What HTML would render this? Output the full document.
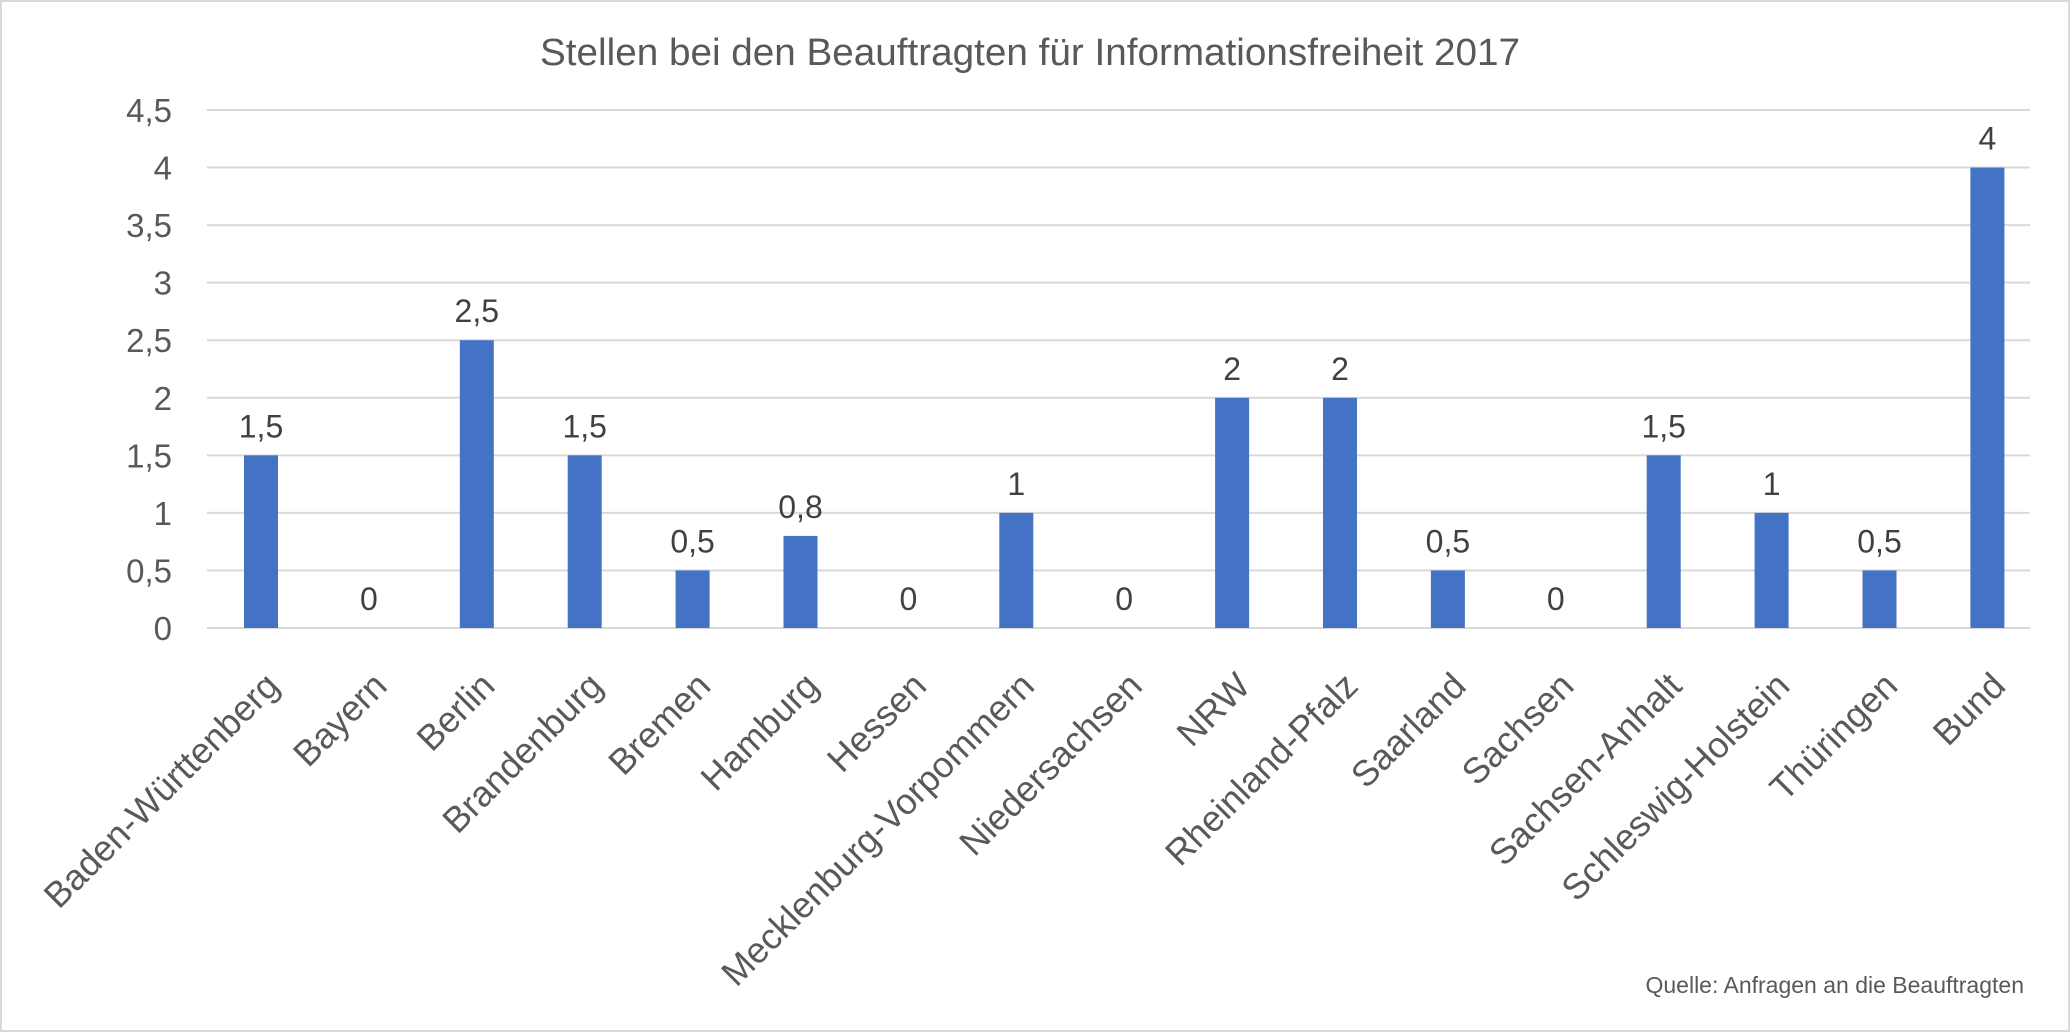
<!DOCTYPE html>
<html><head><meta charset="utf-8"><style>
html,body{margin:0;padding:0;background:#fff}
svg{display:block;font-family:"Liberation Sans",sans-serif}
</style></head><body>
<svg id="chart" width="2070" height="1032" viewBox="0 0 2070 1032">
<rect x="1" y="1" width="2068" height="1030" fill="#fff" stroke="#d9d9d9" stroke-width="2"/>
<text x="1030" y="65" text-anchor="middle" font-size="38" fill="#595959" textLength="980" lengthAdjust="spacingAndGlyphs">Stellen bei den Beauftragten für Informationsfreiheit 2017</text>
<g id="grid"></g><g id="bars"></g><g id="labels"></g>
<text x="2024" y="993" text-anchor="end" font-size="23" fill="#595959">Quelle: Anfragen an die Beauftragten</text>
</svg>
<script>
const categories=["Baden-Württenberg","Bayern","Berlin","Brandenburg","Bremen","Hamburg","Hessen","Mecklenburg-Vorpommern","Niedersachsen","NRW","Rheinland-Pfalz","Saarland","Sachsen","Sachsen-Anhalt","Schleswig-Holstein","Thüringen","Bund"];
const values=[1.5,0,2.5,1.5,0.5,0.8,0,1,0,2,2,0.5,0,1.5,1,0.5,4];
const ticks=[0,0.5,1,1.5,2,2.5,3,3.5,4,4.5];
const NS="http://www.w3.org/2000/svg";
const L=207,R=2030,Y0=628,YT=110,MAX=4.5;
const y=v=>Y0-(v/MAX)*(Y0-YT);
const step=107.9;
const x=i=>261+step*i;
const fmt=v=>String(v).replace('.',',');
function mk(t,a,p){const e=document.createElementNS(NS,t);for(const k in a)e.setAttribute(k,a[k]);p.appendChild(e);return e;}
const grid=document.getElementById('grid'),bars=document.getElementById('bars'),labs=document.getElementById('labels');
ticks.forEach(t=>{
 const ln=mk('line',{x1:L,x2:R,y1:y(t),y2:y(t),stroke:'#d9d9d9','stroke-width':2},grid);
 
 
 const tx=mk('text',{x:172,y:y(t)+12,'text-anchor':'end','font-size':33,fill:'#595959'},grid);
 tx.textContent=fmt(t);
 
 
});
categories.forEach((c,i)=>{
 const v=values[i],bw=34;
 const r=mk('rect',{x:x(i)-bw/2,y:y(v),width:bw,height:Y0-y(v),fill:'#4472c4'},bars);
 
 
 const vl=mk('text',{x:x(i),y:y(v)-18,'text-anchor':'middle','font-size':32,fill:'#404040'},labs);
 vl.textContent=fmt(v);
 
 
 const cl=mk('text',{x:0,y:0,'text-anchor':'end','font-size':36,fill:'#595959',transform:`translate(${x(i)+20},${688}) rotate(-45)`},labs);
 cl.textContent=c;
 
 
});
</script>
</body></html>
